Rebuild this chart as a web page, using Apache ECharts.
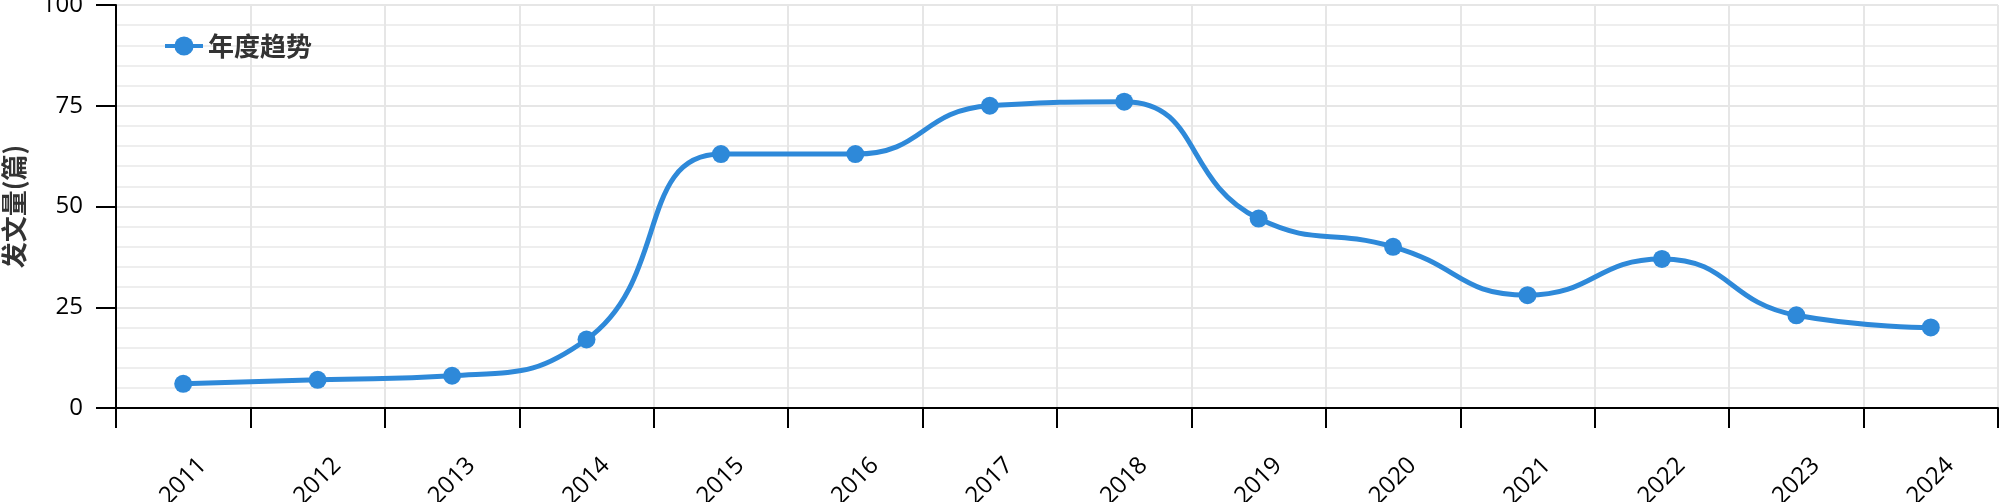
<!DOCTYPE html>
<html>
<head>
<meta charset="utf-8">
<script src="https://cdn.jsdelivr.net/npm/echarts@6/dist/echarts.min.js"></script>
<style>
html,body{margin:0;padding:0;background:#fff;}
#chart{width:2000px;height:502px;}
</style>
</head>
<body>
<div id="chart"></div>
<script>
const years = ['2011','2012','2013','2014','2015','2016','2017','2018','2019','2020','2021','2022','2023','2024'];
const counts = [6, 7, 8, 17, 63, 63, 75, 76, 47, 40, 28, 37, 23, 20];
const seriesName = '年度趋势';
const yAxisName = '发文量(篇)';
const yTicks = [0, 25, 50, 75, 100];

const chart = echarts.init(document.getElementById('chart'));
const fontLatin = '"Open Sans", "Noto Sans", sans-serif';
const fontCJK = '"Noto Sans CJK SC", "Noto Sans", sans-serif';
chart.setOption({
  animation: false,
  backgroundColor: '#fff',
  grid: { left: 116, right: 2, top: 5, bottom: 94, containLabel: false, outerBoundsMode: 'none' },
  legend: {
    data: [seriesName],
    left: 158, top: 28,
    itemWidth: 38, itemHeight: 24, itemGap: 10,
    lineStyle: { width: 4 },
    textStyle: { fontFamily: fontCJK, fontSize: 26, fontWeight: 'bold', color: '#333' }
  },
  xAxis: {
    type: 'category',
    data: years,
    boundaryGap: true,
    axisLine: { lineStyle: { color: '#000', width: 2 } },
    axisTick: { show: true, length: 20, lineStyle: { color: '#000', width: 2 } },
    axisLabel: { rotate: 45, margin: 73, align: 'center', verticalAlign: 'middle', fontSize: 24, color: '#000', fontFamily: fontLatin },
    splitLine: { show: true, lineStyle: { color: '#e6e6e6', width: 2 } }
  },
  yAxis: {
    type: 'value',
    min: yTicks[0], max: yTicks[yTicks.length - 1], interval: 25,
    name: yAxisName,
    nameLocation: 'middle',
    nameGap: 89,
    nameTextStyle: { fontFamily: fontCJK, fontSize: 26, fontWeight: 'bold', color: '#333' },
    axisLine: { show: true, lineStyle: { color: '#000', width: 2 } },
    axisTick: { show: true, length: 20, lineStyle: { color: '#000', width: 2 } },
    axisLabel: { margin: 33, fontSize: 24, color: '#000', fontFamily: fontLatin },
    splitLine: { show: true, lineStyle: { color: '#e6e6e6', width: 2 } },
    minorTick: { show: false, splitNumber: 5 },
    minorSplitLine: { show: true, lineStyle: { color: '#eeeeee', width: 2 } }
  },
  series: [{
    name: seriesName,
    type: 'line',
    data: counts,
    smooth: true,
    symbol: 'circle',
    symbolSize: 18,
    lineStyle: { color: '#2e89d9', width: 5 },
    itemStyle: { color: '#2e89d9' }
  }]
});
</script>
</body>
</html>
